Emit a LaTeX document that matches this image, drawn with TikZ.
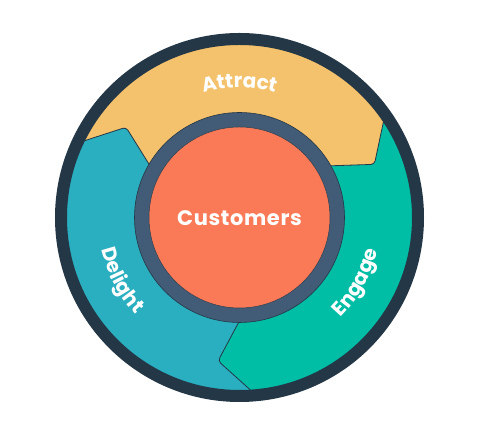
\documentclass[tikz,border=0pt]{standalone}
\usepackage{fontspec}
\setmainfont{Poppins}
\usetikzlibrary{calc,decorations.text}
\definecolor{ringdark}{HTML}{243746}
\definecolor{slate}{HTML}{425B76}
\definecolor{coral}{HTML}{FA7A57}
\definecolor{sun}{HTML}{F4C16C}
\definecolor{sea}{HTML}{00BDA5}
\definecolor{sky}{HTML}{2AAFC0}
\newcommand\lbl{\color{white}\bfseries\fontsize{20}{20}\selectfont}
\tikzset{
  seg/.style={fill=#1, rounded corners=3.5pt},
  border/.style={draw=ringdark, line width=0.8pt, rounded corners=3.5pt},
}
\begin{document}
\begin{tikzpicture}[x=1pt,y=1pt]
\useasboundingbox (0,0) rectangle (483,435);
\coordinate (c) at (239.5,217.5);
% tips and boundary points
\foreach \n/\t in {A/21.5,B/141.5,C/261.5}{
  \coordinate (t\n) at ($(c)+(\t:145)$);
  \coordinate (i\n) at ($(c)+(\t+8:105)$);
  \coordinate (o\n) at ($(c)+(\t+12:172.5)$);
}
\foreach \n in {A,B,C}{
  \coordinate (ii\n) at ($(t\n)!1.5!(i\n)$);
  \coordinate (oo\n) at ($(t\n)!2.2!(o\n)$);
}
\begin{scope}
\clip (c) circle (178);
% yellow: tip A to notch at B
\fill[seg=sun] (c) -- (iiA) -- (tA) -- (ooA) -- ($(c)+(60:320)$) -- ($(c)+(100:320)$) -- ($(c)+(140:320)$) -- (ooB) -- (tB) -- (iiB) -- cycle;
% blue: tip B to notch at C
\fill[seg=sky] (c) -- (iiB) -- (tB) -- (ooB) -- ($(c)+(180:320)$) -- ($(c)+(220:320)$) -- ($(c)+(260:320)$) -- (ooC) -- (tC) -- (iiC) -- cycle;
% teal: tip C to notch at A
\fill[seg=sea] (c) -- (iiC) -- (tC) -- (ooC) -- ($(c)+(300:320)$) -- ($(c)+(340:320)$) -- ($(c)+(380:320)$) -- (ooA) -- (tA) -- (iiA) -- cycle;
\draw[border] (iiA) -- (tA) -- (ooA);
\draw[border] (iiB) -- (tB) -- (ooB);
\draw[border] (iiC) -- (tC) -- (ooC);
\end{scope}
% outer ring
\draw[ringdark, line width=12pt] (c) circle (178.5);
% inner ring and hub
\fill[slate, draw=ringdark, line width=0.6pt] (c) circle (105);
\fill[coral, draw=ringdark!80!slate, line width=0.5pt] (c) circle (90.5);
\node[font=\color{white}\bfseries\fontsize{21}{21}\selectfont\addfontfeature{LetterSpace=3}] (hub) at ($(c)+(0,-1)$) {Customers};
% labels
\path[decorate, decoration={text along path, text={|\lbl|Attract}, text align=center}]
  ($(c)+(125:130)$) arc[start angle=125, end angle=55, radius=130];
\path[decorate, decoration={text along path, text={|\lbl|Delight}, text align=center}]
  ($(c)+(177:142)$) arc[start angle=177, end angle=239, radius=142];
\path[decorate, decoration={text along path, text={|\lbl|Engage}, text align=center}]
  ($(c)+(-60:142)$) arc[start angle=-60, end angle=2, radius=142];
\end{tikzpicture}
\end{document}
